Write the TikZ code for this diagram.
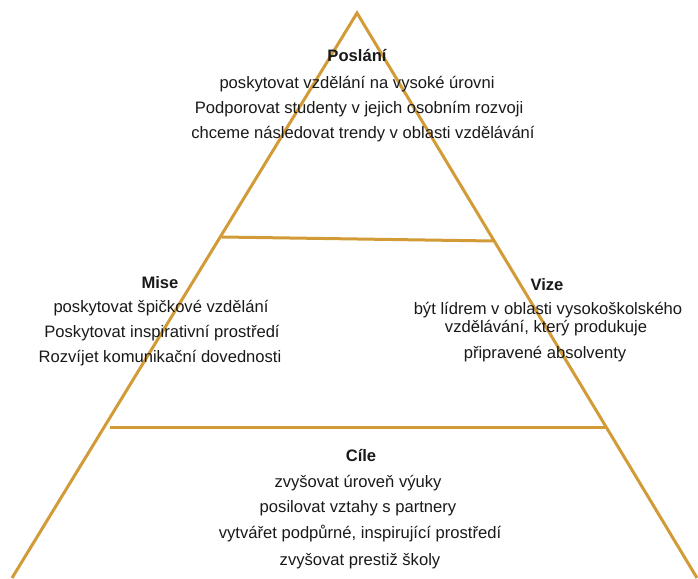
\documentclass[tikz,border=0pt]{standalone}
\usepackage{fontspec}
\setmainfont{Liberation Sans}
\definecolor{gold}{RGB}{210,155,55}
\definecolor{ink}{RGB}{25,25,25}
\tikzset{
	edge/.style={gold,line width=3pt},
	title/.style={font=\fontsize{16.6}{19}\selectfont\bfseries,text=ink,inner sep=0pt,anchor=base},
	item/.style={font=\fontsize{16.6}{19}\selectfont,text=ink,inner sep=0pt,anchor=base}
}
\begin{document}
\begin{tikzpicture}[x=1pt,y=-1pt]
	\useasboundingbox (0,0) rectangle (698,578);

	% Draw pyramid
	\coordinate (apex) at (357,13);
	\coordinate (baseL) at (12,578);
	\coordinate (baseR) at (697,578);
	\draw[edge,line join=miter] (baseL) -- (apex) -- (baseR);

	% Draw dividers
	\coordinate (topL) at (222,237);
	\coordinate (topR) at (493,241);
	\coordinate (lowL) at (110,427);
	\coordinate (lowR) at (606,427);
	\draw[edge] (topL) -- (topR);
	\draw[edge] (lowL) -- (lowR);

	% Poslani
	\node[title] (poslani) at (357,62) {Poslání};
	\node[item] (poslani1) at (357,88) {poskytovat vzdělání na vysoké úrovni};
	\node[item] (poslani2) at (359,113) {Podporovat studenty v jejich osobním rozvoji};
	\node[item] (poslani3) at (363,138) {chceme následovat trendy v oblasti vzdělávání};

	% Mise
	\node[title] (mise) at (160,288) {Mise};
	\node[item] (mise1) at (161,312) {poskytovat špičkové vzdělání};
	\node[item] (mise2) at (162,337) {Poskytovat inspirativní prostředí};
	\node[item] (mise3) at (160,362) {Rozvíjet komunikační dovednosti};

	% Vize
	\node[title] (vize) at (547,290) {Vize};
	\node[item] (vize1) at (548,314) {být lídrem v oblasti vysokoškolského};
	\node[item] (vize2) at (546,332) {vzdělávání, který produkuje};
	\node[item] (vize3) at (545,358) {připravené absolventy};

	% Cile
	\node[title] (cile) at (361,461) {Cíle};
	\node[item] (cile1) at (358,487) {zvyšovat úroveň výuky};
	\node[item] (cile2) at (358,512) {posilovat vztahy s partnery};
	\node[item] (cile3) at (360,538) {vytvářet podpůrné, inspirující prostředí};
	\node[item] (cile4) at (360,565) {zvyšovat prestiž školy};
\end{tikzpicture}
\end{document}
